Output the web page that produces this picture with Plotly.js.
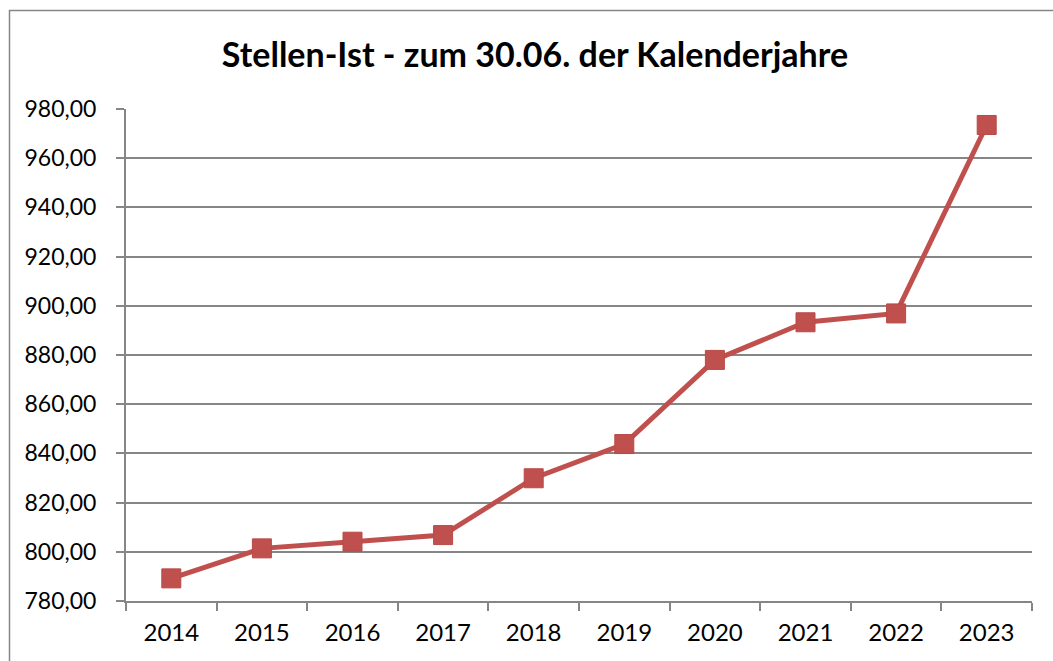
<!DOCTYPE html>
<html>
<head>
<meta charset="utf-8">
<script src="https://cdn.plot.ly/plotly-3.0.1.min.js"></script>
<style>html,body{margin:0;padding:0;background:#fff;}#chart{width:1053px;height:661px;}</style>
</head>
<body>
<div id="chart"></div>
<script>
const years = ["2014","2015","2016","2017","2018","2019","2020","2021","2022","2023"];
const stellenIst = [789.2, 801.4, 804.1, 806.8, 829.9, 843.8, 878.0, 893.3, 896.9, 973.5];
const titleText = "Stellen-Ist - zum 30.06. der Kalenderjahre";

const W = 1053, H = 661;
const M = {l: 126, r: 21, t: 109, b: 60};
const pw = W - M.l - M.r, ph = H - M.t - M.b;
const px = x => (x - M.l) / pw;
const py = y => (H - M.b - y) / ph;

const trace = {
  x: years,
  y: stellenIst,
  type: "scatter",
  mode: "lines+markers",
  cliponaxis: false,
  line: {color: "#C0504D", width: 5},
  marker: {symbol: "square", size: 19, color: "#C0504D", line: {color: "#B94A47", width: 1}},
  hoverinfo: "x+y"
};

const gray = "#868686";
const layout = {
  width: W, height: H,
  margin: M,
  paper_bgcolor: "#fff",
  plot_bgcolor: "#fff",
  separators: ",.",
  showlegend: false,
  font: {family: "Lato, 'Open Sans', sans-serif", color: "#000"},
  title: {
    text: "<b>" + titleText + "</b>",
    font: {family: "Lato, 'Open Sans', sans-serif", size: 34, color: "#000"},
    x: 535 / W, xref: "container", xanchor: "center",
    y: 1 - 55 / H, yref: "container", yanchor: "middle"
  },
  xaxis: {
    type: "category",
    range: [-0.5, 9.5],
    autorange: false,
    showgrid: false,
    zeroline: false,
    showline: true, linecolor: gray, linewidth: 2,
    ticks: "outside", tickson: "boundaries", ticklen: 8, tickwidth: 2, tickcolor: gray,
    tickfont: {size: 24, color: "#000"},
    ticklabelstandoff: 9
  },
  yaxis: {
    range: [780, 980],
    autorange: false,
    dtick: 20, tick0: 780,
    tickformat: ".2f",
    showgrid: true, gridcolor: gray, gridwidth: 2,
    zeroline: false,
    showline: true, linecolor: gray, linewidth: 2,
    ticks: "outside", ticklen: 8, tickwidth: 2, tickcolor: gray,
    tickfont: {size: 23, color: "#000"},
    ticklabelstandoff: 15
  },
  shapes: [{
    type: "rect", xref: "paper", yref: "paper",
    x0: px(9.5), x1: px(1070), y0: py(680), y1: py(10.5),
    line: {color: gray, width: 1.5}, fillcolor: "rgba(0,0,0,0)", layer: "below"
  }]
};

Plotly.newPlot("chart", [trace], layout, {displayModeBar: false, staticPlot: true});
</script>
</body>
</html>
